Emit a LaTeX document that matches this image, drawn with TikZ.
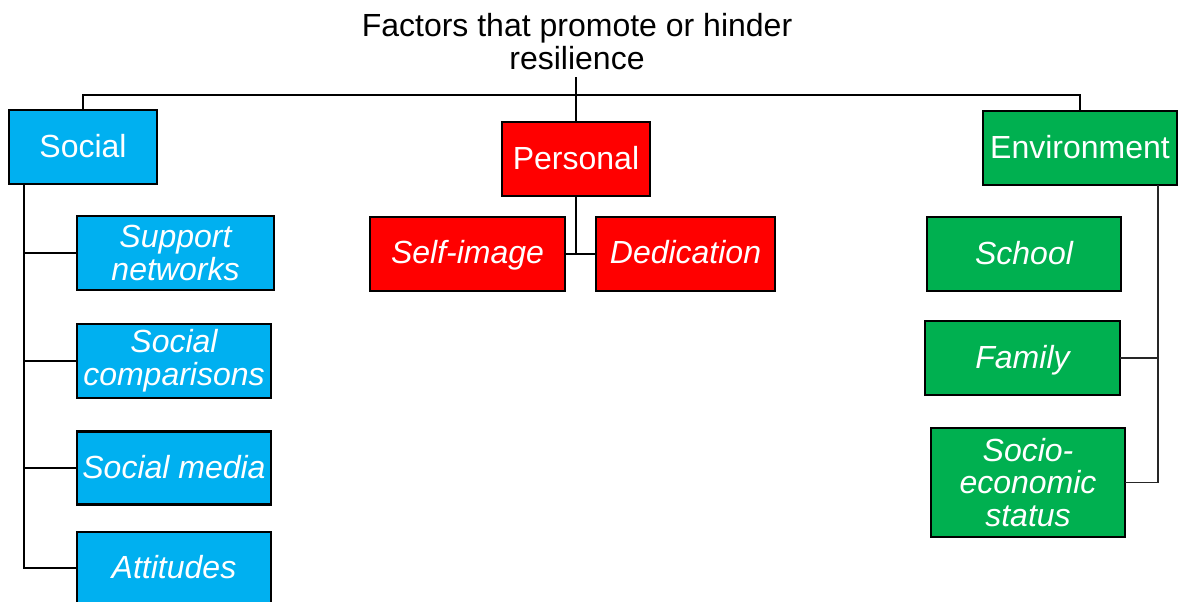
\documentclass[tikz,border=0pt]{standalone}
\usepackage{fontspec}
\setmainfont{Liberation Sans}
\definecolor{socialblue}{HTML}{00B0F0}
\definecolor{personalred}{HTML}{FF0000}
\definecolor{envgreen}{HTML}{00B050}
\tikzset{
  catbox/.style={draw=black, line width=2.2pt, inner sep=0pt, outer sep=0pt,
    text=white, align=center, font=\fontsize{24}{24.5}\selectfont},
  itembox/.style={catbox, font=\fontsize{24}{24.5}\selectfont\itshape},
  oneline/.style={text height=17.5pt, text depth=2.5pt},
  lowline/.style={text height=17.5pt, text depth=3pt},
  link/.style={draw=black, line width=2.1pt},
  thinlink/.style={draw=black!85, line width=1.3pt},
}
\begin{document}
\begin{tikzpicture}[x=0.75pt, y=-0.75pt]
  \useasboundingbox (0,0) rectangle (1182,601);
  \clip (0,0) rectangle (1182,601);

  % heading
  \node[align=center, inner sep=0pt, font=\fontsize{24}{24.8}\selectfont] (title) at (577,42)
    {Factors that promote or hinder\\resilience};
  \coordinate (titlefoot) at (576,77);
  \coordinate (hub) at (576,95);

  % the three categories
  \node[catbox, oneline, fill=socialblue, minimum width=111pt, minimum height=55.5pt] (social) at (83,147) {Social};
  \node[catbox, oneline, fill=personalred, minimum width=111pt, minimum height=55.5pt] (personal) at (576,159) {Personal};
  \node[catbox, oneline, fill=envgreen, minimum width=145.5pt, minimum height=55.5pt] (env) at (1080,148) {Environment};

  % social factors
  \node[itembox, fill=socialblue, minimum width=147.75pt, minimum height=55.5pt] (support) at (175.5,253) {Support\\networks};
  \node[itembox, fill=socialblue, minimum width=145.5pt, minimum height=55.5pt] (comparisons) at (174,361) {Social\\comparisons};
  \node[itembox, oneline, fill=socialblue, minimum width=145.5pt, minimum height=54.75pt] (media) at (174,468) {Social media};
  \node[itembox, oneline, fill=socialblue, minimum width=145.5pt, minimum height=54pt] (attitudes) at (174,568) {Attitudes};

  % personal factors
  \node[itembox, lowline, fill=personalred, minimum width=146.25pt, minimum height=55.5pt] (selfimage) at (467.5,254) {Self-image};
  \node[itembox, lowline, fill=personalred, minimum width=134.25pt, minimum height=55.5pt] (dedication) at (685.5,254) {Dedication};

  % environmental factors
  \node[itembox, oneline, fill=envgreen, minimum width=145.5pt, minimum height=55.5pt] (school) at (1024,254) {School};
  \node[itembox, oneline, fill=envgreen, minimum width=146.25pt, minimum height=55.5pt] (family) at (1022.5,358) {Family};
  \node[itembox, fill=envgreen, minimum width=145.5pt, minimum height=81.75pt] (socio) at (1028,482.5) {Socio-\\economic\\status};

  % heading to categories
  \draw[link] (titlefoot) -- (hub);
  \draw[link] (social.north) |- (hub) -| (env.north);
  \draw[link] (hub) -- (personal.north);

  % social tree
  \coordinate (strunk) at ([xshift=11.25pt]social.south west);
  \draw[link] (strunk) |- (support.west);
  \draw[link] (strunk) |- (comparisons.west);
  \draw[link] (strunk) |- (media.west);
  \draw[link] (strunk) |- (attitudes.west);

  % personal tree
  \draw[link] (personal.south) |- (selfimage.east);
  \draw[link] (personal.south) |- (dedication.west);

  % environment tree
  \coordinate (etrunk) at ([xshift=-14.25pt]env.south east);
  \draw[thinlink] (etrunk) |- (family.east);
  \draw[thinlink] (etrunk) |- (socio.east);
\end{tikzpicture}
\end{document}
